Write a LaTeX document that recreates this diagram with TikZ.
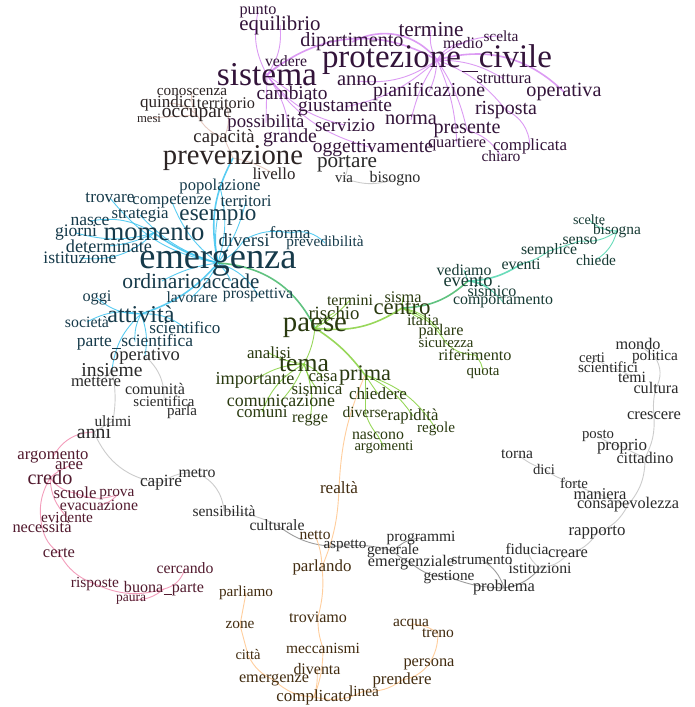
\documentclass[tikz,border=0pt]{standalone}
\usepackage{graphicx}
\usepackage{fontspec}
\setmainfont{Liberation Serif}
\usetikzlibrary{backgrounds}
\newcommand\rw[2]{\resizebox{#1pt}{!}{#2}}
\newcommand\us{\kern0.02em\rule[-0.13em]{0.5em}{0.05em}\kern0.02em}
\definecolor{tpu}{HTML}{33143A}
\definecolor{tbl}{HTML}{163A4A}
\definecolor{tgy}{HTML}{2A2A2A}
\definecolor{tpk}{HTML}{521A2E}
\definecolor{tor}{HTML}{422C10}
\definecolor{tgr}{HTML}{2A3A10}
\definecolor{ttl}{HTML}{163A33}
\definecolor{ttn}{HTML}{2C2424}
\definecolor{cpu}{HTML}{D68AF2}
\definecolor{cbl}{HTML}{3DC4F0}
\definecolor{cgr}{HTML}{86D13E}
\definecolor{cgd}{HTML}{45B86A}
\definecolor{ctl}{HTML}{4FD6AE}
\definecolor{cgy}{HTML}{C4C4C4}
\definecolor{cgk}{HTML}{8A8A8A}
\definecolor{cpk}{HTML}{F28CB0}
\definecolor{cor}{HTML}{FFC68C}
\definecolor{ctn}{HTML}{E2C2B8}
\tikzset{
  wpu/.style={text=tpu}, wbl/.style={text=tbl}, wgy/.style={text=tgy},
  wpk/.style={text=tpk}, wor/.style={text=tor}, wgr/.style={text=tgr},
  wtl/.style={text=ttl}, wtn/.style={text=ttn},
  ln/.style={line width=0.9pt, opacity=0.85},
  hub/.style={line width=1.6pt},
  lpu/.style={ln, draw=cpu}, lbl/.style={ln, draw=cbl}, lgr/.style={ln, draw=cgr},
  lgd/.style={ln, draw=cgd}, ltl/.style={ln, draw=ctl}, lgy/.style={ln, draw=cgy},
  lgk/.style={ln, draw=cgk}, lpk/.style={ln, draw=cpk}, lor/.style={ln, draw=cor},
  ltn/.style={ln, draw=ctn}
}
\begin{document}
\begin{tikzpicture}[x=1pt, y=-1pt, every node/.style={inner sep=0pt}]
\useasboundingbox (0,0) rectangle (694,707);
% ---------- purple cluster
\node[wpu] (punto) at (258,12) {\rw{37}{punto}};
\node[wpu] (equilibrio) at (280,25) {\rw{81}{equilibrio}};
\node[wpu] (dipartimento) at (352,42) {\rw{103}{dipartimento}};
\node[wpu] (termine) at (431,30) {\rw{65}{termine}};
\node[wpu] (medio) at (463,43) {\rw{40}{medio}};
\node[wpu] (scelta) at (501,36) {\rw{35}{scelta}};
\node[wpu] (vedere) at (286,61) {\rw{42}{vedere}};
\node[wpu] (sistema) at (267,75) {\rw{100}{sistema}};
\node[wpu] (protezione) at (437,60) {\rw{230}{protezione\us civile}};
\node[wpu] (anno) at (357,81) {\rw{40}{anno}};
\node[wpu] (struttura) at (504,79) {\rw{55}{struttura}};
\node[wpu] (cambiato) at (292,93) {\rw{71}{cambiato}};
\node[wpu] (pianificazione) at (429,92) {\rw{112}{pianificazione}};
\node[wpu] (operativa) at (564,92) {\rw{75}{operativa}};
\node[wpu] (giustamente) at (345,107) {\rw{94}{giustamente}};
\node[wpu] (risposta) at (506,110) {\rw{62}{risposta}};
\node[wpu] (norma) at (411,120) {\rw{52}{norma}};
\node[wpu] (possibilita) at (266,123) {\rw{77}{possibilità}};
\node[wpu] (servizio) at (345,125) {\rw{60}{servizio}};
\node[wpu] (presente) at (467,130) {\rw{67}{presente}};
\node[wpu] (grande) at (290,138) {\rw{54}{grande}};
\node[wpu] (oggettivamente) at (373,148) {\rw{120}{oggettivamente}};
\node[wpu] (quartiere) at (457,144) {\rw{58}{quartiere}};
\node[wpu] (complicata) at (530,146) {\rw{74}{complicata}};
\node[wpu] (chiaro) at (501,156) {\rw{39}{chiaro}};
% ---------- tan cluster
\node[wtn] (conoscenza) at (192,92) {\rw{70}{conoscenza}};
\node[wtn] (quindici) at (168,103) {\rw{56}{quindici}};
\node[wtn] (territorio) at (226,103) {\rw{58}{territorio}};
\node[wtn] (mesi) at (149,118) {\rw{24}{mesi}};
\node[wtn] (occupare) at (197,115) {\rw{70}{occupare}};
\node[wtn] (capacita) at (224,138) {\rw{61}{capacità}};
\node[wtn] (prevenzione) at (233,158) {\rw{140}{prevenzione}};
\node[wtn] (livello) at (274,174) {\rw{43}{livello}};
\node[wgy] (portare) at (347,164) {\rw{60}{portare}};
\node[wgy] (via) at (344,178) {\rw{18}{via}};
\node[wgy] (bisogno) at (395,179) {\rw{51}{bisogno}};
% ---------- blue cluster
\node[wbl] (popolazione) at (220,187) {\rw{81}{popolazione}};
\node[wbl] (trovare) at (110,198) {\rw{49}{trovare}};
\node[wbl] (competenze) at (172,202) {\rw{79}{competenze}};
\node[wbl] (territori) at (246,201) {\rw{51}{territori}};
\node[wbl] (nasce) at (90,221) {\rw{39}{nasce}};
\node[wbl] (strategia) at (140,215) {\rw{57}{strategia}};
\node[wbl] (esempio) at (218,215) {\rw{77}{esempio}};
\node[wbl] (giorni) at (76,233) {\rw{42}{giorni}};
\node[wbl] (momento) at (154,233) {\rw{101}{momento}};
\node[wbl] (diversi) at (244,240) {\rw{51}{diversi}};
\node[wbl] (forma) at (290,233) {\rw{41}{forma}};
\node[wbl] (prevedibilita) at (325,243) {\rw{77}{prevedibilità}};
\node[wbl] (determinate) at (109,246) {\rw{86}{determinate}};
\node[wbl] (istituzione) at (80,258) {\rw{73}{istituzione}};
\node[wbl] (emergenza) at (218,263) {\rw{157}{emergenza}};
\node[wbl] (ordinario) at (162,281) {\rw{79}{ordinario}};
\node[wbl] (accade) at (231,281) {\rw{57}{accade}};
\node[wbl] (lavorare) at (192,297) {\rw{51}{lavorare}};
\node[wbl] (prospettiva) at (258,295) {\rw{70}{prospettiva}};
\node[wbl] (oggi) at (97,298) {\rw{29}{oggi}};
\node[wbl] (attivita) at (141,314) {\rw{67}{attività}};
\node[wbl] (societa) at (87,322) {\rw{44}{società}};
\node[wbl] (scientifico) at (185,328) {\rw{71}{scientifico}};
\node[wbl] (partesci) at (135,342) {\rw{116}{parte\us scientifica}};
\node[wgy] (operativo) at (145,356) {\rw{70}{operativo}};
% ---------- gray cluster
\node[wgy] (insieme) at (112,370) {\rw{61}{insieme}};
\node[wgy] (mettere) at (96,382) {\rw{50}{mettere}};
\node[wgy] (comunita) at (155,389) {\rw{60}{comunità}};
\node[wgy] (scientifica) at (164,401) {\rw{61}{scientifica}};
\node[wgy] (parla) at (182,412) {\rw{30}{parla}};
\node[wgy] (ultimi) at (113,421) {\rw{37}{ultimi}};
\node[wgy] (anni) at (94,432) {\rw{34}{anni}};
% ---------- pink cluster
\node[wpk] (argomento) at (53,457) {\rw{71}{argomento}};
\node[wpk] (aree) at (69,466) {\rw{28}{aree}};
\node[wpk] (credo) at (50,478) {\rw{45}{credo}};
\node[wpk] (scuole) at (75,493) {\rw{43}{scuole}};
\node[wpk] (prova) at (117,495) {\rw{35}{prova}};
\node[wpk] (evacuazione) at (99,505) {\rw{78}{evacuazione}};
\node[wpk] (evidente) at (67,517) {\rw{52}{evidente}};
\node[wpk] (necessita) at (42,527) {\rw{59}{necessità}};
\node[wpk] (certe) at (59,553) {\rw{32}{certe}};
\node[wpk] (cercando) at (185,568) {\rw{57}{cercando}};
\node[wpk] (risposte) at (95,584) {\rw{48}{risposte}};
\node[wpk] (buonaparte) at (164,589) {\rw{80}{buona\us parte}};
\node[wpk] (paura) at (131,600) {\rw{30}{paura}};
% ---------- gray lower chain
\node[wgy] (capire) at (161,483) {\rw{42}{capire}};
\node[wgy] (metro) at (197,473) {\rw{37}{metro}};
\node[wgy] (sensibilita) at (224,511) {\rw{63}{sensibilità}};
\node[wgy] (culturale) at (277,525) {\rw{55}{culturale}};
\node[wgy] (aspetto) at (345,546) {\rw{43}{aspetto}};
\node[wgy] (programmi) at (421,538) {\rw{69}{programmi}};
\node[wgy] (generale) at (393,551) {\rw{52}{generale}};
\node[wgy] (emergenziale) at (411,563) {\rw{86}{emergenziale}};
\node[wgy] (strumento) at (482,560) {\rw{61}{strumento}};
\node[wgy] (gestione) at (449,577) {\rw{51}{gestione}};
\node[wgy] (fiducia) at (527,549) {\rw{43}{fiducia}};
\node[wgy] (creare) at (568,554) {\rw{40}{creare}};
\node[wgy] (istituzioni) at (540,568) {\rw{63}{istituzioni}};
\node[wgy] (problema) at (504,588) {\rw{62}{problema}};
\node[wgy] (rapporto) at (597,533) {\rw{57}{rapporto}};
\node[wgy] (torna) at (517,454) {\rw{32}{torna}};
\node[wgy] (dici) at (544,469) {\rw{22}{dici}};
\node[wgy] (forte) at (574,483) {\rw{28}{forte}};
\node[wgy] (maniera) at (600,494) {\rw{53}{maniera}};
\node[wgy] (consapevolezza) at (628,505) {\rw{102}{consapevolezza}};
\node[wgy] (posto) at (598,436) {\rw{32}{posto}};
\node[wgy] (proprio) at (622,447) {\rw{50}{proprio}};
\node[wgy] (cittadino) at (645,458) {\rw{57}{cittadino}};
\node[wgy] (crescere) at (654,416) {\rw{54}{crescere}};
\node[wgy] (mondo) at (638,344) {\rw{45}{mondo}};
\node[wgy] (certi) at (592,358) {\rw{26}{certi}};
\node[wgy] (politica) at (655,357) {\rw{46}{politica}};
\node[wgy] (scientifici) at (608,367) {\rw{60}{scientifici}};
\node[wgy] (temi) at (632,377) {\rw{28}{temi}};
\node[wgy] (cultura) at (656,388) {\rw{45}{cultura}};
% ---------- orange cluster
\node[wor] (realta) at (339,488) {\rw{38}{realtà}};
\node[wor] (netto) at (315,535) {\rw{31}{netto}};
\node[wor] (parlando) at (322,567) {\rw{59}{parlando}};
\node[wor] (parliamo) at (246,593) {\rw{54}{parliamo}};
\node[wor] (troviamo) at (318,617) {\rw{58}{troviamo}};
\node[wor] (zone) at (240,625) {\rw{29}{zone}};
\node[wor] (acqua) at (411,624) {\rw{36}{acqua}};
\node[wor] (treno) at (438,633) {\rw{32}{treno}};
\node[wor] (meccanismi) at (323,648) {\rw{74}{meccanismi}};
\node[wor] (citta) at (248,655) {\rw{25}{città}};
\node[wor] (persona) at (429,664) {\rw{51}{persona}};
\node[wor] (diventa) at (317,669) {\rw{47}{diventa}};
\node[wor] (emergenze) at (274,680) {\rw{70}{emergenze}};
\node[wor] (prendere) at (402,680) {\rw{59}{prendere}};
\node[wor] (linea) at (364,691) {\rw{30}{linea}};
\node[wor] (complicato) at (314,697) {\rw{75}{complicato}};
% ---------- green cluster
\node[wgr] (termini) at (350,300) {\rw{46}{termini}};
\node[wgr] (sisma) at (403,297) {\rw{37}{sisma}};
\node[wgr] (rischio) at (334,313) {\rw{51}{rischio}};
\node[wgr] (centro) at (402,308) {\rw{57}{centro}};
\node[wgr] (italia) at (423,320) {\rw{32}{italia}};
\node[wgr] (paese) at (315,328) {\rw{64}{paese}};
\node[wgr] (parlare) at (441,332) {\rw{45}{parlare}};
\node[wgr] (sicurezza) at (446,343) {\rw{55}{sicurezza}};
\node[wgr] (riferimento) at (475,355) {\rw{73}{riferimento}};
\node[wgr] (analisi) at (269,353) {\rw{44}{analisi}};
\node[wgr] (tema) at (304,364) {\rw{50}{tema}};
\node[wgr] (quota) at (483,373) {\rw{33}{quota}};
\node[wgr] (importante) at (255,380) {\rw{79}{importante}};
\node[wgr] (casa) at (323,378) {\rw{29}{casa}};
\node[wgr] (prima) at (365,375) {\rw{52}{prima}};
\node[wgr] (sismica) at (317,389) {\rw{51}{sismica}};
\node[wgr] (chiedere) at (378,394) {\rw{58}{chiedere}};
\node[wgr] (comunicazione) at (281,401) {\rw{108}{comunicazione}};
\node[wgr] (diverse) at (365,412) {\rw{45}{diverse}};
\node[wgr] (rapidita) at (413,416) {\rw{51}{rapidità}};
\node[wgr] (comuni) at (262,412) {\rw{51}{comuni}};
\node[wgr] (regge) at (310,420) {\rw{36}{regge}};
\node[wgr] (regole) at (436,429) {\rw{38}{regole}};
\node[wgr] (nascono) at (378,436) {\rw{52}{nascono}};
\node[wgr] (argomenti) at (384,447) {\rw{59}{argomenti}};
% ---------- teal cluster
\node[wtl] (scelte) at (589,220) {\rw{32}{scelte}};
\node[wtl] (bisogna) at (617,231) {\rw{48}{bisogna}};
\node[wtl] (senso) at (580,241) {\rw{35}{senso}};
\node[wtl] (semplice) at (549,251) {\rw{56}{semplice}};
\node[wtl] (chiede) at (596,260) {\rw{40}{chiede}};
\node[wtl] (eventi) at (521,264) {\rw{39}{eventi}};
\node[wtl] (vediamo) at (464,270) {\rw{55}{vediamo}};
\node[wtl] (evento) at (468,281) {\rw{49}{evento}};
\node[wtl] (sismico) at (492,291) {\rw{49}{sismico}};
\node[wtl] (comportamento) at (503,302) {\rw{100}{comportamento}};

\begin{pgfonlayer}{background}
\fill[white] (0,0) rectangle (694,707);
% purple
\draw[lpu,hub] (protezione.center) to[bend right=35] (sistema.center);
\draw[lpu,hub] (protezione.center) to[bend right=40] (dipartimento.center);
\draw[lpu] (protezione.center) to[bend left=20] (termine.center);
\draw[lpu] (protezione.center) to[bend left=25] (medio.center);
\draw[lpu] (protezione.center) to[bend left=20] (scelta.center);
\draw[lpu] (protezione.center) to[bend left=15] (struttura.center);
\draw[lpu,hub] (protezione.center) to[bend left=30] (operativa.center);
\draw[lpu] (protezione.center) to[bend left=10] (pianificazione.center);
\draw[lpu] (protezione.center) to[bend right=10] (norma.center);
\draw[lpu] (protezione.center) to[bend left=10] (presente.center);
\draw[lpu] (protezione.center) to[bend left=15] (risposta.center);
\draw[lpu] (protezione.center) to[bend left=10] (quartiere.center);
\draw[lpu] (protezione.center) to[bend left=20] (anno.center);
\draw[lpu] (protezione.center) to[bend left=15] (giustamente.center);
\draw[lpu] (risposta.center) to[bend left=30] (complicata.center);
\draw[lpu] (presente.center) to[bend left=20] (chiaro.center);
\draw[lpu] (sistema.center) to[bend left=20] (punto.center);
\draw[lpu] (sistema.center) to[bend right=20] (equilibrio.center);
\draw[lpu] (sistema.center) to[bend left=10] (vedere.center);
\draw[lpu] (sistema.center) to (cambiato.center);
\draw[lpu] (sistema.center) to (possibilita.center);
\draw[lpu] (sistema.center) to[bend left=15] (grande.center);
\draw[lpu] (sistema.center) to[bend right=20] (servizio.center);
\draw[lpu] (sistema.center) to[bend right=20] (oggettivamente.center);
% tan
\draw[ltn] (occupare.center) to[bend left=20] (conoscenza.center);
\draw[ltn] (occupare.center) to[bend right=20] (quindici.center);
\draw[ltn] (occupare.center) to (mesi.center);
\draw[ltn] (territorio.center) to[bend left=20] (capacita.center);
\draw[ltn] (occupare.center) to[bend right=20] (capacita.center);
\draw[ltn] (capacita.center) to (prevenzione.center);
\draw[ltn] (prevenzione.center) to[bend left=10] (livello.center);
\draw[lgy] (portare.center) to[bend left=20] (via.center);
\draw[lgy] (via.center) to[bend right=20] (bisogno.center);
% blue
\draw[lbl,hub] (emergenza.center) to[bend left=20] (prevenzione.center);
\draw[lbl] (emergenza.center) to[bend right=15] (popolazione.center);
\draw[lbl] (emergenza.center) to[bend left=15] (competenze.center);
\draw[lbl] (emergenza.center) to[bend right=10] (territori.center);
\draw[lbl] (emergenza.center) to[bend left=10] (esempio.center);
\draw[lbl,hub] (emergenza.center) to[bend left=10] (momento.center);
\draw[lbl] (emergenza.center) to[bend left=20] (trovare.center);
\draw[lbl] (emergenza.center) to[bend left=15] (strategia.center);
\draw[lbl] (emergenza.center) to[bend right=15] (diversi.center);
\draw[lbl] (emergenza.center) to[bend right=10] (ordinario.center);
\draw[lbl] (emergenza.center) to[bend left=10] (accade.center);
\draw[lbl] (emergenza.center) to[bend left=10] (lavorare.center);
\draw[lbl] (emergenza.center) to[bend left=20] (prospettiva.center);
\draw[lbl,hub] (emergenza.center) to[bend left=15] (attivita.center);
\draw[lbl] (momento.center) to[bend right=20] (nasce.center);
\draw[lbl] (momento.center) to[bend left=15] (giorni.center);
\draw[lbl] (momento.center) to[bend left=10] (determinate.center);
\draw[lbl] (momento.center) to[bend left=25] (istituzione.center);
\draw[lbl] (diversi.center) to[bend left=20] (forma.center);
\draw[lbl] (forma.center) to[bend left=30] (prevedibilita.center);
\draw[lbl] (attivita.center) to[bend left=20] (oggi.center);
\draw[lbl] (attivita.center) to[bend right=20] (societa.center);
\draw[lbl] (attivita.center) to[bend left=20] (scientifico.center);
\draw[lbl] (attivita.center) to[bend right=15] (partesci.center);
\draw[lbl] (attivita.center) to[bend left=15] (operativo.center);
\draw[lbl] (attivita.center) to[bend right=20] (insieme.center);
% gray
\draw[lgy] (insieme.center) to[bend left=20] (mettere.center);
\draw[lgy] (insieme.center) to[bend left=10] (ultimi.center);
\draw[lgy] (operativo.center) to[bend left=25] (scientifica.center);
\draw[lgy] (ultimi.center) to (anni.center);
\draw[lgy] (anni.center) to[bend right=30] (capire.center);
\draw[lgy] (capire.center) to[bend left=20] (metro.center);
\draw[lgy] (metro.center) to[bend left=30] (sensibilita.center);
\draw[lgy] (sensibilita.center) to[bend left=10] (culturale.center);
\draw[lgk] (culturale.center) to[bend right=20] (aspetto.center);
\draw[lgk] (aspetto.center) to[bend left=10] (generale.center);
\draw[lgk] (generale.center) to[bend left=20] (programmi.center);
\draw[lgk] (generale.center) to[bend right=10] (emergenziale.center);
\draw[lgk] (emergenziale.center) to[bend right=20] (gestione.center);
\draw[lgk] (gestione.center) to[bend right=10] (problema.center);
\draw[lgk] (strumento.center) to[bend left=20] (problema.center);
\draw[lgk] (problema.center) to[bend right=20] (istituzioni.center);
\draw[lgy] (istituzioni.center) to[bend left=20] (fiducia.center);
\draw[lgy] (istituzioni.center) to[bend right=20] (creare.center);
\draw[lgy] (creare.center) to[bend right=20] (rapporto.center);
\draw[lgy] (rapporto.center) to[bend right=20] (consapevolezza.center);
\draw[lgy] (consapevolezza.center) to[bend left=10] (maniera.center);
\draw[lgy] (maniera.center) to[bend left=10] (forte.center);
\draw[lgy] (forte.center) to[bend left=10] (dici.center);
\draw[lgy] (dici.center) to[bend left=10] (torna.center);
\draw[lgy] (consapevolezza.center) to[bend right=20] (cittadino.center);
\draw[lgy] (cittadino.center) to (proprio.center);
\draw[lgy] (proprio.center) to[bend left=10] (posto.center);
\draw[lgy] (cittadino.center) to[bend right=15] (crescere.center);
\draw[lgy] (crescere.center) to[bend left=10] (cultura.center);
\draw[lgy] (cultura.center) to[bend right=30] (politica.center);
\draw[lgy] (politica.center) to (mondo.center);
\draw[lgy] (certi.center) to[bend left=10] (scientifici.center);
\draw[lgy] (scientifici.center) to[bend left=10] (temi.center);
% pink
\draw[lpk] (anni.center) to[bend right=30] (argomento.center);
\draw[lpk] (credo.center) to[bend left=10] (aree.center);
\draw[lpk] (credo.center) to[bend right=20] (scuole.center);
\draw[lpk] (scuole.center) to[bend right=20] (prova.center);
\draw[lpk] (prova.center) to[bend left=20] (evacuazione.center);
\draw[lpk] (credo.center) to[bend right=20] (evidente.center);
\draw[lpk] (credo.center) to[bend right=20] (necessita.center);
\draw[lpk] (necessita.center) to[bend right=20] (certe.center);
\draw[lpk] (certe.center) to[bend right=20] (risposte.center);
\draw[lpk] (risposte.center) to[bend right=20] (buonaparte.center);
\draw[lpk] (buonaparte.center) to[bend right=30] (cercando.center);
\draw[lpk] (buonaparte.center) to[bend left=20] (paura.center);
% orange
\draw[lor] (prima.center) to[bend right=10] (realta.center);
\draw[lor] (realta.center) to[bend left=10] (parlando.center);
\draw[lor] (netto.center) to[bend left=10] (parlando.center);
\draw[lor] (parlando.center) to[bend left=10] (troviamo.center);
\draw[lor] (troviamo.center) to[bend right=10] (meccanismi.center);
\draw[lor] (meccanismi.center) to[bend left=10] (complicato.center);
\draw[lor] (diventa.center) to[bend left=10] (complicato.center);
\draw[lor] (parliamo.center) to (zone.center);
\draw[lor] (zone.center) to (citta.center);
\draw[lor] (citta.center) to[bend right=20] (emergenze.center);
\draw[lor] (emergenze.center) to[bend right=20] (complicato.center);
\draw[lor] (complicato.center) to[bend right=20] (linea.center);
\draw[lor] (linea.center) to[bend right=20] (prendere.center);
\draw[lor] (prendere.center) to[bend right=20] (persona.center);
\draw[lor] (persona.center) to[bend right=15] (treno.center);
\draw[lor] (treno.center) to[bend right=15] (acqua.center);
% green
\draw[lgd,hub] (emergenza.center) to[bend left=30] (paese.center);
\draw[lgr] (paese.center) to[bend left=10] (rischio.center);
\draw[lgr] (paese.center) to[bend right=10] (termini.center);
\draw[lgr,hub] (paese.center) to[bend right=20] (centro.center);
\draw[lgr] (paese.center) to[bend left=10] (tema.center);
\draw[lgr,hub] (paese.center) to[bend left=10] (prima.center);
\draw[lgr] (tema.center) to[bend left=10] (analisi.center);
\draw[lgr] (tema.center) to[bend right=15] (importante.center);
\draw[lgr] (tema.center) to[bend left=15] (casa.center);
\draw[lgr] (tema.center) to[bend right=10] (sismica.center);
\draw[lgr] (tema.center) to[bend left=10] (comunicazione.center);
\draw[lgr] (tema.center) to[bend right=20] (comuni.center);
\draw[lgr] (tema.center) to[bend left=15] (regge.center);
\draw[lgr] (prima.center) to (chiedere.center);
\draw[lgr] (prima.center) to (diverse.center);
\draw[lgr] (prima.center) to[bend left=15] (rapidita.center);
\draw[lgr] (prima.center) to[bend left=20] (regole.center);
\draw[lgr] (diverse.center) to[bend right=10] (nascono.center);
\draw[lgr] (nascono.center) to (argomenti.center);
\draw[lgr] (centro.center) to (sisma.center);
\draw[lgr] (centro.center) to (italia.center);
\draw[lgr] (centro.center) to[bend left=20] (parlare.center);
\draw[lgr] (centro.center) to[bend left=20] (sicurezza.center);
\draw[lgr] (sicurezza.center) to[bend right=20] (riferimento.center);
\draw[lgr] (riferimento.center) to[bend left=20] (quota.center);
\draw[lgd,hub] (centro.center) to[bend right=20] (evento.center);
% teal
\draw[ltl] (evento.center) to (vediamo.center);
\draw[ltl] (evento.center) to[bend left=20] (sismico.center);
\draw[ltl] (evento.center) to[bend left=20] (comportamento.center);
\draw[ltl,hub] (evento.center) to[bend right=15] (eventi.center);
\draw[ltl] (eventi.center) to[bend right=10] (semplice.center);
\draw[ltl] (semplice.center) to (senso.center);
\draw[ltl] (senso.center) to[bend right=20] (bisogna.center);
\draw[ltl] (bisogna.center) to[bend left=20] (scelte.center);
\draw[ltl] (bisogna.center) to[bend left=20] (chiede.center);
\end{pgfonlayer}
\end{tikzpicture}
\end{document}
